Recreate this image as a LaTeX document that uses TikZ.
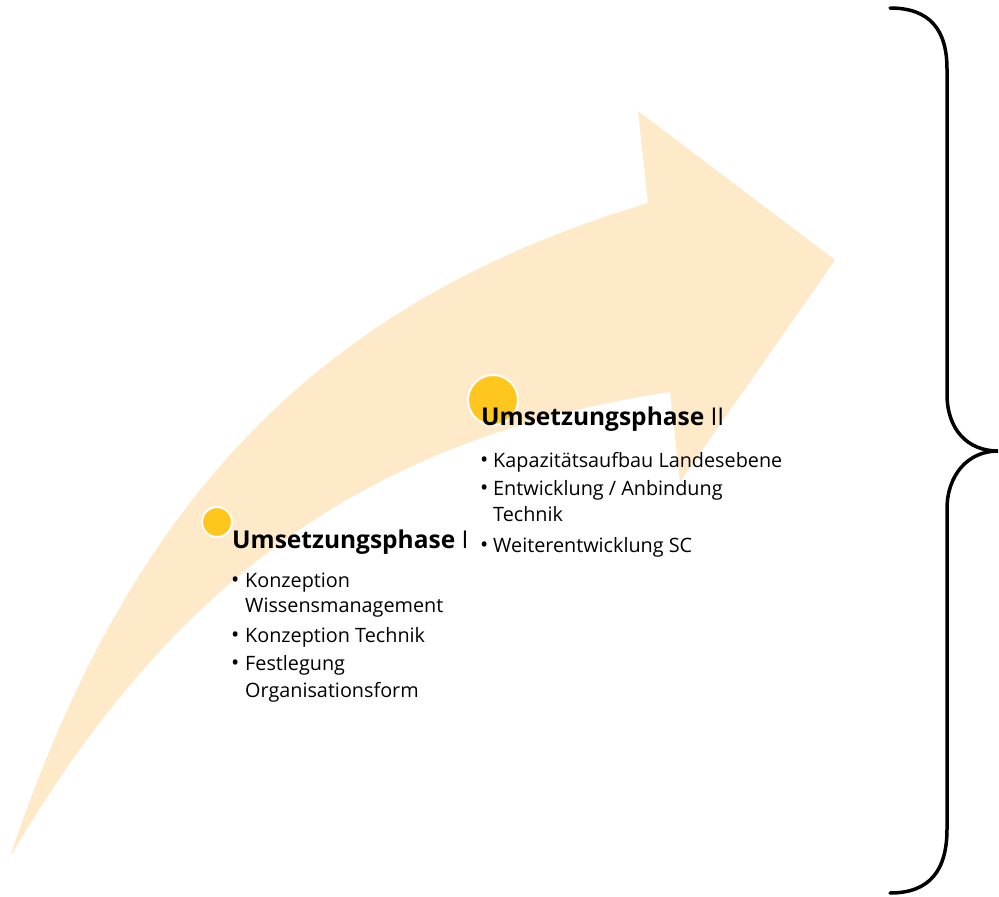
\documentclass[tikz,border=0pt]{standalone}
\usepackage{fontspec}
\setmainfont{Open Sans}
\definecolor{arrowc}{HTML}{FEE9C9}
\definecolor{dotc}{HTML}{FFC71E}
\begin{document}
\begin{tikzpicture}[x=1pt,y=-1pt,
  dot/.style={circle,fill=dotc,draw=white,line width=2pt,inner sep=0pt,minimum size=#1},
  title/.style={anchor=base west,inner sep=0pt,font=\fontsize{24.5}{28}\selectfont},
  item/.style={anchor=base west,inner sep=0pt,font=\fontsize{19.8}{23}\selectfont},
  bul/.style={anchor=base west,inner sep=0pt,font=\fontsize{22}{24}\selectfont},
  brace/.style={line width=3.5pt,line cap=round}]
\useasboundingbox (0,0) rectangle (999,897);
% arrow
\fill[arrowc] (10,857) .. controls (130,498) and (321,301) .. (648,203)
  -- (638,111) -- (835,260) -- (680,482) -- (670,392)
  .. controls (373,437) and (175,576) .. (10,857) -- cycle;
% brace
\draw[brace] (890,8) .. controls (930,8) and (947,30) .. (947,69) -- (947,394)
  .. controls (947,430) and (968,451) .. (998,451)
  .. controls (968,451) and (947,475) .. (947,509) -- (947,829)
  .. controls (947,870) and (930,893) .. (890,893);
% dots
\node[dot=30pt] (d1) at (217,522) {};
\node[dot=50pt] (d2) at (493,400) {};
% titles
\node[title] (t1) at (232,548) {\textbf{Umsetzungsphase} I};
\node[title] (t2) at (481,425) {\textbf{Umsetzungsphase} II};
% list 1
\node[bul] (b11) at (231,587) {•};
\node[item] (i11) at (245,587) {Konzeption};
\node[item] (i12) at (245,612) {Wissensmanagement};
\node[bul] (b12) at (231,642) {•};
\node[item] (i13) at (245,642) {Konzeption Technik};
\node[bul] (b13) at (231,670) {•};
\node[item] (i14) at (245,670) {Festlegung};
\node[item] (i15) at (245,697) {Organisationsform};
% list 2
\node[bul] (b21) at (480,467) {•};
\node[item] (i21) at (493,467) {Kapazitätsaufbau Landesebene};
\node[bul] (b22) at (480,495) {•};
\node[item] (i22) at (493,495) {Entwicklung / Anbindung};
\node[item] (i23) at (493,521) {Technik};
\node[bul] (b23) at (480,552) {•};
\node[item] (i24) at (493,552) {Weiterentwicklung SC};
\end{tikzpicture}
\end{document}
